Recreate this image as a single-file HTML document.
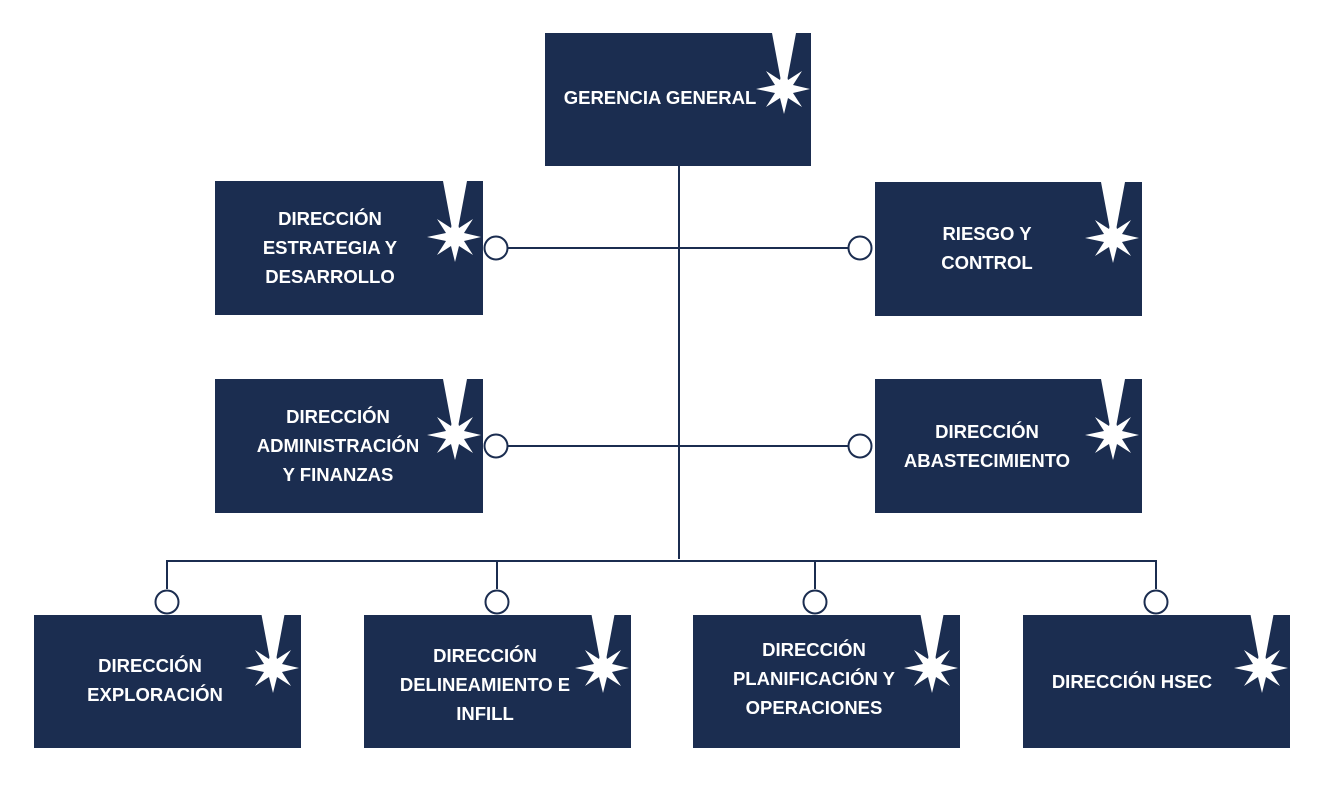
<!DOCTYPE html>
<html><head><meta charset="utf-8"><style>
body{margin:0;background:#fff;width:1324px;height:780px;overflow:hidden}
svg text{font-family:"Liberation Sans",sans-serif;font-weight:bold;font-size:18.5px;fill:#fff;text-anchor:middle}
</style></head><body>
<svg width="1324" height="780" viewBox="0 0 1324 780">
<defs>
<symbol id="st" overflow="visible">
<polygon fill="#fff" points="-12,-56 12,-56 3,-8 0,-20 -3,-8"/>
<polygon fill="#fff" points="0,-25 4,-9 18,-18 9,-4 26,0 9,4 18,18 4,9 0,25 -4,9 -18,18 -9,4 -28,0 -9,-4 -18,-18 -4,-9"/>
</symbol>
</defs>
<g fill="#1b2d50">
<rect x="545" y="33" width="266" height="133"/>
<rect x="215" y="181" width="268" height="134"/>
<rect x="875" y="182" width="267" height="134"/>
<rect x="215" y="379" width="268" height="134"/>
<rect x="875" y="379" width="267" height="134"/>
<rect x="34" y="615" width="267" height="133"/>
<rect x="364" y="615" width="267" height="133"/>
<rect x="693" y="615" width="267" height="133"/>
<rect x="1023" y="615" width="267" height="133"/>
</g>
<use href="#st" x="784" y="89"/>
<use href="#st" x="455" y="237"/>
<use href="#st" x="1113" y="238"/>
<use href="#st" x="455" y="435"/>
<use href="#st" x="1113" y="435"/>
<use href="#st" x="273" y="668"/>
<use href="#st" x="603" y="668"/>
<use href="#st" x="932" y="668"/>
<use href="#st" x="1262" y="668"/>
<g stroke="#1b2d50" stroke-width="2" fill="none">
<line x1="679" y1="166" x2="679" y2="559"/>
<line x1="508" y1="248" x2="848" y2="248"/>
<line x1="508" y1="446" x2="848" y2="446"/>
<polyline points="167,589 167,561 1156,561 1156,589"/>
<line x1="497" y1="561" x2="497" y2="589"/>
<line x1="815" y1="561" x2="815" y2="589"/>
<g fill="#fff">
<circle cx="496" cy="248" r="11.5"/><circle cx="860" cy="248" r="11.5"/>
<circle cx="496" cy="446" r="11.5"/><circle cx="860" cy="446" r="11.5"/>
<circle cx="167" cy="602" r="11.5"/><circle cx="497" cy="602" r="11.5"/>
<circle cx="815" cy="602" r="11.5"/><circle cx="1156" cy="602" r="11.5"/>
</g></g>
<text x="660" y="104">GERENCIA GENERAL</text>
<text x="330" y="225">DIRECCIÓN</text><text x="330" y="254">ESTRATEGIA Y</text><text x="330" y="283">DESARROLLO</text>
<text x="987" y="240">RIESGO Y</text><text x="987" y="269">CONTROL</text>
<text x="338" y="423">DIRECCIÓN</text><text x="338" y="452">ADMINISTRACIÓN</text><text x="338" y="481">Y FINANZAS</text>
<text x="987" y="438">DIRECCIÓN</text><text x="987" y="467">ABASTECIMIENTO</text>
<text x="150" y="672">DIRECCIÓN</text><text x="155" y="701">EXPLORACIÓN</text>
<text x="485" y="662">DIRECCIÓN</text><text x="485" y="691">DELINEAMIENTO E</text><text x="485" y="720">INFILL</text>
<text x="814" y="656">DIRECCIÓN</text><text x="814" y="685">PLANIFICACIÓN Y</text><text x="814" y="714">OPERACIONES</text>
<text x="1132" y="688">DIRECCIÓN HSEC</text>
</svg>
</body></html>
